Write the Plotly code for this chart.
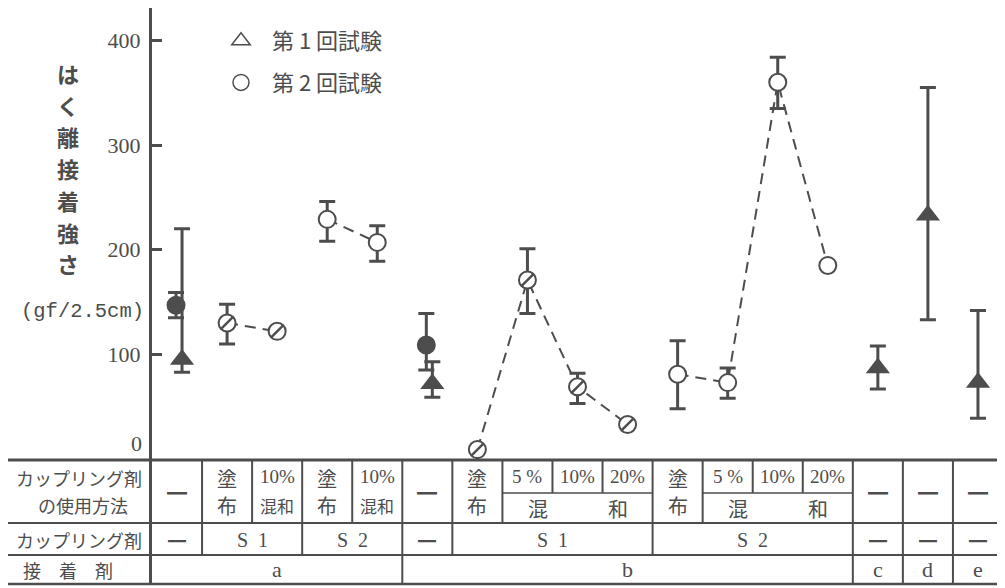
import plotly.graph_objects as go

# ---------------- data ----------------
n_cols = 17  # experimental conditions (table columns)

# 第1回試験 (filled triangles)
test1_cols = [1, 6, 15, 16, 17]
test1_vals = [95, 72, 87, 233, 73]
test1_hi = [220, 93, 108, 355, 142]
test1_lo = [83, 59, 67, 133, 39]

# 第2回試験 (circles)
test2_cols = list(range(1, 15))
test2_vals = [147, 130, 122, 229, 207, 109, 9, 171, 69, 33, 81, 73, 360, 185]
test2_hi = [159, 148, None, 246, 223, 139, None, 201, 82, None, 113, 87, 384, None]
test2_lo = [135, 110, None, 208, 189, 85, None, 139, 53, None, 48, 58, 335, None]
test2_style = ["filled", "hatched", "hatched", "open", "open", "filled",
               "hatched", "hatched", "hatched", "hatched",
               "open", "open", "open", "open"]
test2_links = [[2, 3], [4, 5], [7, 8, 9, 10], [11, 12, 13, 14]]

y_tick_vals = [100, 200, 300, 400]

# table content
row_labels = ["カップリング剤", "の使用方法", "カップリング剤", "接　着　剤"]
DASH = "━"
method_top = [DASH, "塗", "10%", "塗", "10%", DASH, "塗", "5 %", "10%", "20%",
              "塗", "5 %", "10%", "20%", DASH, DASH, DASH]
method_bottom = ["", "布", "混和", "布", "混和", "", "布", "", "", "",
                 "布", "", "", "", "", "", ""]
mix_groups = [[8, 9, 10], [12, 13, 14]]
mix_label = "混　　　和"
agent_spans = [(1, 1, DASH), (2, 3, "S\u20021"), (4, 5, "S\u20022"), (6, 6, DASH),
               (7, 10, "S\u20021"), (11, 14, "S\u20022"), (15, 15, DASH),
               (16, 16, DASH), (17, 17, DASH)]
adhesive_spans = [(1, 5, "a"), (6, 14, "b"), (15, 15, "c"), (16, 16, "d"), (17, 17, "e")]
y_title = "はく離接着強さ"
y_unit = "(gf/2.5cm)"
legend_names = ["第 1 回試験", "第 2 回試験"]

# ---------------- style / layout ----------------
OFF = 8                      # page body margin of the browser
REF_W, REF_H = 1005, 588
W, H = REF_W - OFF, REF_H - OFF
PLOT_L, PLOT_R, PLOT_T, PLOT_B = 152, 1003, 8, 459   # reference pixel frame
ML, MR, MT, MB = PLOT_L - OFF, REF_W - PLOT_R, PLOT_T - OFF, REF_H - PLOT_B
PLOT_H = PLOT_B - PLOT_T
Y_MAX = 431
INK = "#4d4d4d"
JP = "Noto Sans CJK JP"
SERIF = "Liberation Serif"
MONO = "Liberation Mono"

def py(p):  # reference pixel row -> paper y
    return (PLOT_B - p) / PLOT_H

def pxp(p):  # reference pixel col -> paper x
    return (p - PLOT_L) / (PLOT_R - PLOT_L)

def edge(k):  # left edge of column k in paper x
    return (k - 1) / n_cols

def center(k):
    return (k - 0.5) / n_cols

both = set(test1_cols) & set(test2_cols)
x1 = [c + (0.1 if c in both else 0) for c in test1_cols]
x2 = [c - (0.02 if c in both else 0) for c in test2_cols]

fig = go.Figure()

# dashed links for the 2nd test
for grp in test2_links:
    idx = [test2_cols.index(c) for c in grp]
    fig.add_trace(go.Scatter(
        x=[x2[i] for i in idx], y=[test2_vals[i] for i in idx], mode="lines",
        line=dict(color=INK, width=2, dash="11px,7px"),
        showlegend=False, hoverinfo="skip"))

def err(vals, hi, lo, idx):
    plus = [(hi[i] - vals[i]) if hi[i] is not None else None for i in idx]
    minus = [(vals[i] - lo[i]) if lo[i] is not None else None for i in idx]
    return plus, minus

# 1st test triangles
p, m = err(test1_vals, test1_hi, test1_lo, range(len(test1_vals)))
fig.add_trace(go.Scatter(
    x=x1, y=test1_vals, mode="markers",
    marker=dict(symbol="triangle-up", size=21, color=INK, line=dict(width=0)),
    error_y=dict(type="data", symmetric=False, array=p, arrayminus=m,
                 color=INK, thickness=3, width=8),
    showlegend=False, hoverinfo="skip"))

# 2nd test circles by style
for style in ["filled", "open", "hatched"]:
    idx = [i for i, s in enumerate(test2_style) if s == style]
    p, m = err(test2_vals, test2_hi, test2_lo, idx)
    fig.add_trace(go.Scatter(
        x=[x2[i] for i in idx], y=[test2_vals[i] for i in idx], mode="markers",
        marker=dict(symbol="circle", size=17,
                    color=INK if style == "filled" else "white",
                    line=dict(color=INK, width=2)),
        error_y=dict(type="data", symmetric=False, array=p, arrayminus=m,
                     color=INK, thickness=3, width=8),
        showlegend=False, hoverinfo="skip"))
    if style == "hatched":
        fig.add_trace(go.Scatter(
            x=[x2[i] for i in idx], y=[test2_vals[i] for i in idx], mode="markers",
            marker=dict(symbol="line-ne", size=12, color=INK,
                        line=dict(color=INK, width=2.4)),
            showlegend=False, hoverinfo="skip"))

# legend entries
for name, sym, grp in zip(legend_names, ["triangle-up-open", "circle-open"], ["g1", "g2"]):
    fig.add_trace(go.Scatter(x=[None], y=[None], mode="markers",
                             name="\u2002" + name, legendgroup=grp,
                             marker=dict(symbol=sym, size=16, color=INK,
                                         line=dict(width=1.5))))

shapes = []
def hline(y, x0, x1, w=2):
    shapes.append(dict(type="line", xref="paper", yref="paper", x0=x0, x1=x1,
                       y0=y, y1=y, line=dict(color=INK, width=w)))
def vline(x, y0, y1, w=2):
    shapes.append(dict(type="line", xref="paper", yref="paper", x0=x, x1=x,
                       y0=y0, y1=y1, line=dict(color=INK, width=w)))

Y_TOP, Y_MID, Y_R1, Y_R2, Y_BOT = 460, 493, 523, 555, 584
left_x, right_x = pxp(8), pxp(1005)
hline(py(Y_TOP), left_x, right_x, 3)
hline(py(Y_R1), left_x, right_x, 2)
hline(py(Y_R2), left_x, right_x, 2)
hline(py(Y_BOT), left_x, right_x, 2.5)
for g in mix_groups:
    hline(py(Y_MID), edge(g[0]), edge(g[-1] + 1), 1.5)
# axis extension through the table
vline(pxp(150.5), py(458), py(Y_BOT), 3)
# row 1 verticals
for k in range(2, n_cols + 1):
    inside = any((k - 1) in g and k in g for g in mix_groups)
    vline(edge(k), py(Y_TOP), py(Y_MID if inside else Y_R1), 2)
for spans, ya, yb in [(agent_spans, Y_R1, Y_R2), (adhesive_spans, Y_R2, Y_BOT)]:
    for s, e, _ in spans[1:]:
        vline(edge(s), py(ya), py(yb), 2)

ann = []
def text(x, y, t, size=17, font=JP, xanchor="center", weight="normal"):
    ann.append(dict(x=x, y=y, xref="paper", yref="paper", text=t, showarrow=False,
                    xanchor=xanchor, yanchor="middle",
                    font=dict(family=font, size=size, color=INK, weight=weight)))

text(pxp(79), py(478), row_labels[0], 18)
text(pxp(83), py(505), row_labels[1], 18)
text(pxp(79), py(540), row_labels[2], 18)
text(pxp(68), py(570), row_labels[3], 18)

for k in range(1, n_cols + 1):
    top, bot = method_top[k - 1], method_bottom[k - 1]
    if top == DASH:
        text(center(k), py(492), top, 20)
    elif any(ch.isdigit() for ch in top):
        text(center(k), py(477), top, 19, SERIF)
    else:
        text(center(k), py(478), top, 20)
    if bot:
        text(center(k), py(505), bot, 20 if len(bot) == 1 else 17)
for g in mix_groups:
    text((edge(g[0]) + edge(g[-1] + 1)) / 2, py(508), mix_label, 20)
for s, e, t in agent_spans:
    if t == DASH:
        text((edge(s) + edge(e + 1)) / 2, py(540), t, 18)
    else:
        text((edge(s) + edge(e + 1)) / 2, py(540), t, 20, SERIF)
for s, e, t in adhesive_spans:
    text((edge(s) + edge(e + 1)) / 2, py(569), t, 22, SERIF)

# y-axis title: vertical Japanese, one character per line
for i, ch in enumerate(y_title):
    text(pxp(68), py(73 + i * 31.7), ch, 22, JP, weight="bold")
text(pxp(82), py(311), y_unit, 20.5, MONO)
# zero label sits just above the table line
ann.append(dict(x=pxp(144), y=0, xref="paper", yref="y", text="0", showarrow=False,
                xanchor="right", yanchor="bottom", yshift=1,
                font=dict(family=SERIF, size=22, color=INK)))

fig.update_layout(
    width=W, height=H,
    margin=dict(l=ML, r=MR, t=MT, b=MB, pad=0),
    paper_bgcolor="white", plot_bgcolor="white",
    xaxis=dict(range=[0.5, n_cols + 0.5], visible=False),
    yaxis=dict(range=[0, Y_MAX], tickvals=y_tick_vals, ticks="inside", ticklen=10,
               tickwidth=3, tickcolor=INK, showline=True, linewidth=3, linecolor=INK,
               showgrid=False, zeroline=False, ticklabelstandoff=4,
               tickfont=dict(family=SERIF, size=22, color=INK)),
    legend=dict(x=pxp(221), y=py(20), xanchor="left", yanchor="top",
                font=dict(family=JP, size=22, color=INK), tracegroupgap=10,
                bgcolor="rgba(0,0,0,0)"),
    shapes=shapes, annotations=ann,
)

fig.write_html("out.html")
